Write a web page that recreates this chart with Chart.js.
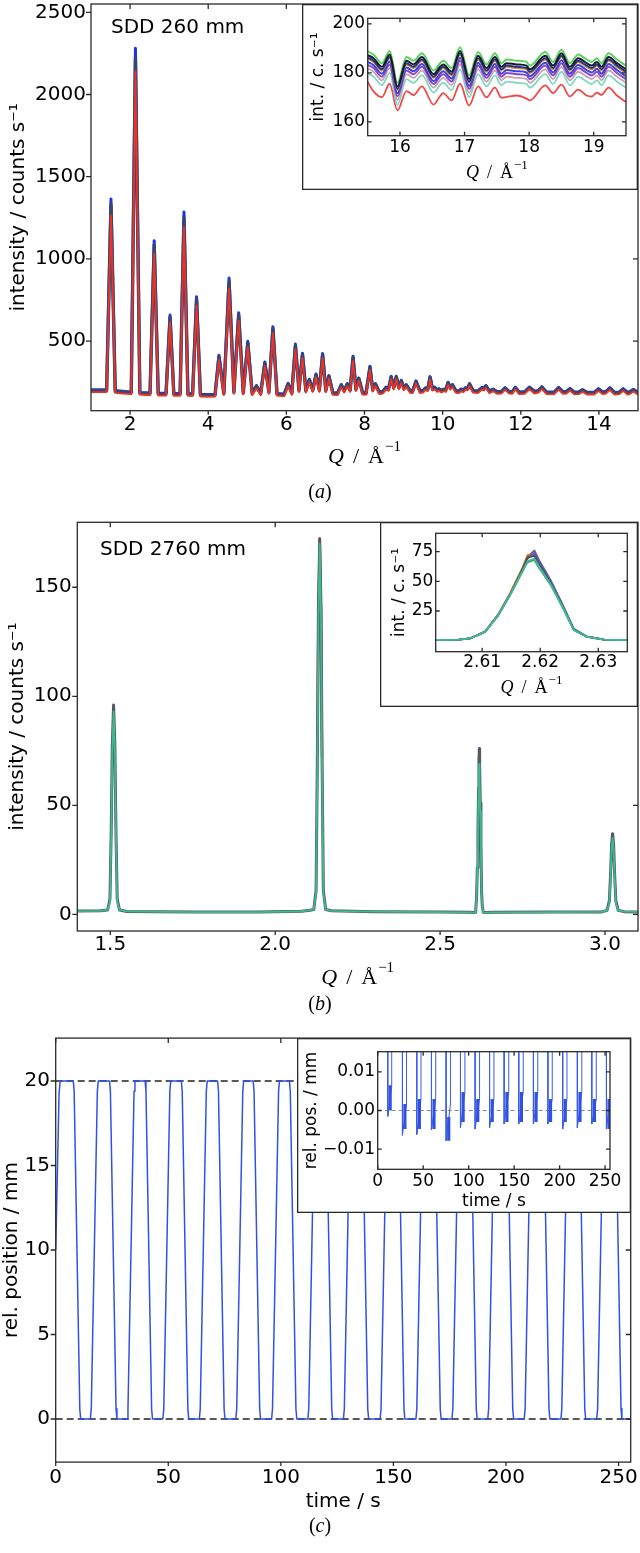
<!DOCTYPE html>
<html><head><meta charset="utf-8">
<script src="https://cdn.jsdelivr.net/npm/chart.js@4.4.1/dist/chart.umd.min.js"></script>
<style>
html,body{margin:0;padding:0;background:#fff;}
body{width:640px;height:1553px;position:relative;overflow:hidden;}
canvas{position:absolute;}
</style></head><body>
<canvas id="cA" width="640" height="510" style="left:0px;top:0px"></canvas>
<canvas id="cAi" width="336" height="186" style="left:302px;top:4px"></canvas>
<canvas id="cB" width="640" height="510" style="left:0px;top:510px"></canvas>
<canvas id="cBi" width="258" height="185" style="left:380px;top:522px"></canvas>
<canvas id="cC" width="640" height="533" style="left:0px;top:1020px"></canvas>
<canvas id="cCi" width="334" height="175" style="left:297px;top:1038px"></canvas>
<script>
// ---------- Panel (a): SDD 260 mm ----------
const qA = [
1.00,1.40,1.5115,1.62,1.80,2.03,2.1376,2.25,2.40,2.51,
2.618,2.72,2.92,3.023,3.12,3.28,3.380,3.48,3.60,3.702,
3.80,4.00,4.175,4.275,4.40,4.534,4.657,4.780,4.897,5.013,
5.125,5.236,5.343,5.450,5.553,5.656,5.76,5.94,6.046,6.14,
6.232,6.322,6.413,6.50,6.589,6.675,6.760,6.845,6.927,7.01,
7.090,7.19,7.31,7.405,7.48,7.558,7.633,7.707,7.78,7.854,
7.95,8.04,8.140,8.21,8.279,8.38,8.47,8.550,8.615,8.683,
8.748,8.813,8.878,8.942,9.005,9.069,9.17,9.23,9.318,9.42,
9.50,9.560,9.62,9.678,9.74,9.796,9.86,9.911,9.97,10.026,
10.08,10.139,10.195,10.251,10.34,10.41,10.472,10.53,10.580,10.64,
10.688,10.78,10.90,11.004,11.05,11.107,11.20,11.29,11.40,11.50,
11.60,11.70,11.78,11.86,11.96,12.10,12.22,12.35,12.45,12.54,
12.66,12.85,12.97,13.08,13.17,13.26,13.37,13.48,13.58,13.70,
13.88,13.99,14.10,14.18,14.28,14.40,14.52,14.62,14.73,14.80,
14.88,15.00];
const intA_dark = [
199,199,1330,194,190,186,2220,183,181,180,
1085,178,177,645,176,176,1250,176,175,752,
172,170,171,405,180,862,188,657,184,488,
180,225,180,365,188,575,177,173,238,182,
472,198,417,196,263,200,295,200,416,198,
285,182,180,232,196,238,200,400,205,271,
184,182,340,202,238,186,190,216,206,281,
215,281,215,258,210,232,194,192,254,193,
196,212,205,279,208,215,200,206,196,204,
200,246,214,232,194,192,204,198,212,210,
238,195,192,214,208,226,192,204,188,190,
212,190,188,215,186,188,216,190,195,218,
186,185,214,188,190,208,185,186,200,184,
184,206,186,190,212,184,186,206,184,188,
202,184];
const intA_blue = [
204,204,1364,199,195,191,2281,188,186,185,
1111,183,182,659,181,181,1285,181,180,770,
177,175,176,414,185,884,193,673,189,499,
185,229,185,373,193,588,182,178,243,187,
482,203,426,201,268,205,300,205,425,203,
290,187,185,236,201,242,205,408,210,276,
189,187,347,207,242,191,195,220,211,286,
220,286,220,262,215,236,199,197,258,198,
201,216,210,284,213,220,205,211,201,209,
205,250,219,236,199,197,209,203,217,215,
242,200,197,219,213,230,197,209,193,195,
217,195,193,220,191,193,221,195,200,223,
191,190,219,193,195,213,190,191,205,189,
189,211,191,195,217,189,191,211,189,193,
207,189];
const intA_red = [
190,190,1265,185,181,177,2140,174,172,171,
1030,169,168,615,167,167,1195,167,166,715,
163,161,162,385,171,820,179,625,175,465,
171,212,171,348,179,548,168,164,225,173,
450,189,397,187,250,191,280,191,396,189,
271,173,171,220,187,226,191,380,196,258,
175,173,324,193,226,177,181,205,197,268,
206,268,206,245,201,221,185,183,242,184,
187,203,196,266,199,206,191,197,187,195,
191,234,205,220,185,183,195,189,203,201,
226,186,183,205,199,215,183,195,179,181,
203,181,179,206,177,179,207,181,186,209,
177,176,205,179,181,199,176,177,191,175,
175,197,177,181,203,175,177,197,175,179,
193,175];
const qA_ticks = [2,4,6,8,10,12,14];
const qA_tickLabels = ['2','4','6','8','10','12','14'];
const intA_ticks = [500,1000,1500,2000,2500];
const intA_tickLabels = ['500','1000','1500','2000','2500'];

// inset (a)
const qAi = [
15.50,15.59,15.72,15.84,15.96,16.10,16.21,16.34,16.52,16.62,
16.67,16.80,16.93,17.07,17.21,17.34,17.47,17.57,17.65,17.81,
17.96,18.01,18.25,18.37,18.50,18.63,18.76,18.89,18.97,19.05,
19.12,19.23,19.36,19.50];
const intAi_green = [
188.8,187.5,184.0,189.0,176.0,186.5,185.0,188.0,181.0,184.0,
185.0,182.0,190.5,179.0,188.5,183.5,188.0,184.0,185.5,185.0,
184.5,183.0,188.5,184.5,189.5,184.0,187.5,185.5,184.5,186.0,
184.0,188.0,185.5,183.0];
const intAi_black = [
187.3,186.0,182.5,187.5,174.5,185.0,183.5,186.5,179.5,182.5,
183.5,180.5,189.0,177.5,187.0,182.0,186.5,182.5,184.0,183.5,
183.0,181.5,187.0,183.0,188.0,182.5,186.0,184.0,183.0,184.5,
182.5,186.5,184.0,181.5];
const intAi_navy = [
186.3,185.0,181.5,186.5,173.5,184.0,182.5,185.5,178.5,181.5,
182.5,179.5,188.0,176.5,186.0,181.0,185.5,181.5,183.0,182.5,
182.0,180.5,186.0,182.0,187.0,181.5,185.0,183.0,182.0,183.5,
181.5,185.5,183.0,180.5];
const intAi_orange = [
185.8,184.5,181.0,186.0,173.0,183.5,182.0,185.0,178.0,181.0,
182.0,179.0,187.5,176.0,185.5,180.5,185.0,181.0,182.5,182.0,
181.5,180.0,185.5,181.5,186.5,181.0,184.5,182.5,181.5,183.0,
181.0,185.0,182.5,180.0];
const intAi_blue = [
184.5,183.2,179.7,184.7,171.7,182.2,180.7,183.7,176.7,179.7,
180.7,177.7,186.2,174.7,184.2,179.2,183.7,179.7,181.2,180.7,
180.2,178.7,184.2,180.2,185.2,179.7,183.2,181.2,180.2,181.7,
179.7,183.7,181.2,178.7];
const intAi_purple = [
183.3,182.0,178.5,183.5,170.5,181.0,179.5,182.5,175.5,178.5,
179.5,176.5,185.0,173.5,183.0,178.0,182.5,178.5,180.0,179.5,
179.0,177.5,183.0,179.0,184.0,178.5,182.0,180.0,179.0,180.5,
178.5,182.5,180.0,177.5];
const intAi_gray = [
181.8,180.5,177.0,182.0,169.0,179.5,178.0,181.0,174.0,177.0,
178.0,175.0,183.5,172.0,181.5,176.5,181.0,177.0,178.5,178.0,
177.5,176.0,181.5,177.5,182.5,177.0,180.5,178.5,177.5,179.0,
177.0,181.0,178.5,176.0];
const intAi_teal = [
179.8,178.5,175.0,180.0,167.0,177.5,176.0,179.0,172.0,175.0,
176.0,173.0,181.5,170.0,179.5,174.5,179.0,175.0,176.5,176.0,
175.5,174.0,179.5,175.5,180.5,175.0,178.5,176.5,175.5,177.0,
175.0,179.0,176.5,174.0];
const intAi_red = [
176.3,172.5,170.1,175.6,164.7,172.6,171.0,174.5,167.1,170.5,
171.8,168.8,175.6,166.7,174.5,170.1,174.0,169.9,170.2,170.8,
169.5,168.8,174.9,171.8,175.2,170.4,173.2,170.8,170.4,172.0,
171.0,174.0,170.8,168.1];
const qAi_ticks = [16,17,18,19];
const qAi_tickLabels = ['16','17','18','19'];
const intAi_ticks = [160,180,200];
const intAi_tickLabels = ['160','180','200'];

// ---------- Panel (b): SDD 2760 mm ----------
const qB = [
1.400,1.470,1.492,1.499,1.503,1.506,1.510,1.514,1.517,1.521,
1.528,1.550,1.750,1.950,2.080,2.105,2.117,2.124,2.128,2.131,
2.135,2.139,2.142,2.146,2.153,2.170,2.300,2.500,2.590,2.602,
2.604,2.606,2.608,2.6105,2.6128,2.6148,2.6168,2.6178,2.6190,2.6198,
2.6218,2.6238,2.6258,2.628,2.631,2.635,2.660,2.850,2.990,3.006,
3.013,3.017,3.020,3.023,3.026,3.029,3.033,3.040,3.060,3.100];
const intB_green = [
1.5,1.6,2.0,6,38,74,93,74,38,6,
2.0,1.3,1.0,1.0,1.4,1.9,2.2,10,70,135,
170,135,70,10,2.2,1.6,1.2,1.0,0.9,0.8,
0.8,0.9,2.0,7.4,21.8,38.5,57,67,69,62.5,
47.5,29,9,3.4,0.9,0.8,0.9,1.0,1.1,1.8,
5,18,30,35,30,18,5,1.8,1.2,1.1];
const intB_gray = [
1.5,1.6,2.0,7,40,77,96,77,40,7,
2.0,1.3,1.0,1.0,1.4,1.9,2.2,11,74,140,
172,140,74,11,2.2,1.6,1.2,1.0,0.9,0.8,
0.8,0.9,2.0,7.3,21.5,38.5,58,70.5,76,68,
51,31,10,3.6,0.9,0.8,0.9,1.0,1.1,1.8,
6,19,32,37,32,19,6,1.8,1.2,1.1];
const qB_red = [2.128,2.131,2.135,2.139,2.142];
const intB_red = [72,138,172.5,138,72];
const qB_ticks = [1.5,2.0,2.5,3.0];
const qB_tickLabels = ['1.5','2.0','2.5','3.0'];
const intB_ticks = [0,50,100,150];
const intB_tickLabels = ['0','50','100','150'];

// inset (b)
const qBi = [2.602,2.604,2.606,2.608,2.6105,2.6128,2.6148,2.6168,2.6178,2.6190,2.6198,2.6218,2.6238,2.6258,2.628,2.631,2.633,2.635];
const intBi_purple = [0.6,0.6,0.8,2.0,7.3,21.5,38.5,58,70.5,76,68,51,31,10,3.6,0.8,0.6,0.6];
const intBi_blue   = [0.6,0.6,0.8,2.0,7.4,21.8,38.6,57.5,69,74,66.5,50,30.5,9.6,3.5,0.8,0.6,0.6];
const intBi_orange = [0.6,0.6,0.8,2.1,7.8,22.5,40,60,72,73,65,49,29.5,9.2,3.4,0.8,0.6,0.6];
const intBi_dark   = [0.6,0.6,0.8,2.0,7.5,22,39,58.5,70,71.5,64.5,48.5,29.5,9.2,3.4,0.8,0.6,0.6];
const intBi_green  = [0.6,0.6,0.8,2.0,7.4,21.8,38.5,57,66,68,61.5,47,28.5,8.8,3.3,0.8,0.6,0.6];
const intBi_teal   = [0.6,0.6,0.8,2.0,7.4,21.8,38.5,57,67,69,62.5,47.5,29,9,3.4,0.8,0.6,0.6];
const qBi_ticks = [2.61,2.62,2.63];
const qBi_tickLabels = ['2.61','2.62','2.63'];
const intBi_ticks = [25,50,75];
const intBi_tickLabels = ['25','50','75'];

// ---------- Panel (c): position ----------
const tC = [0,1.5,2.0,
7.8,8.2,10.7,11.1,15.4,15.8,18.5,18.9,
23.9,24.3,26.8,27.2,31.7,32.1,34.8,35.2,
39.7,40.1,42.6,43.0,47.6,48.0,50.7,51.1,
55.8,56.2,58.7,59.1,63.8,64.2,66.9,67.3,
71.9,72.3,74.8,75.2,80.0,80.4,83.1,83.5,
87.7,88.1,90.6,91.0,95.9,96.3,99.0,99.4,
103.8,104.2,106.7,107.1,112.0,112.4,115.1,115.5,
119.7,120.1,122.6,123.0,127.8,128.2,130.9,131.3,
135.7,136.1,138.6,139.0,144.1,144.5,147.2,147.6,
151.8,152.2,154.7,155.1,160.0,160.4,163.1,163.5,
167.9,168.3,170.8,171.2,176.0,176.4,179.1,179.5,
183.9,184.3,186.8,187.2,191.9,192.3,195.0,195.4,
200.1,200.5,203.0,203.4,208.1,208.5,211.2,211.6,
216.2,216.6,219.1,219.5,224.4,224.8,227.5,227.9,
232.1,232.5,235.0,235.4,240.3,240.7,243.4,243.8,
248.2,248.6,251.1,251.5,255.4];
const posC = [10,19.3,20,
20,19.4,0.6,0,0,0.6,19.4,20,
20,19.4,0.6,0,0,0.6,19.4,20,
20,19.4,0.6,0,0,0.6,19.4,20,
20,19.4,0.6,0,0,0.6,19.4,20,
20,19.4,0.6,0,0,0.6,19.4,20,
20,19.4,0.6,0,0,0.6,19.4,20,
20,19.4,0.6,0,0,0.6,19.4,20,
20,19.4,0.6,0,0,0.6,19.4,20,
20,19.4,0.6,0,0,0.6,19.4,20,
20,19.4,0.6,0,0,0.6,19.4,20,
20,19.4,0.6,0,0,0.6,19.4,20,
20,19.4,0.6,0,0,0.6,19.4,20,
20,19.4,0.6,0,0,0.6,19.4,20,
20,19.4,0.6,0,0,0.6,19.4,20,
20,19.4,0.6,0,0,0.6,19.4,20,
20,19.4,0.6,0,0];
const refLevelsC = [0,20];
const tRange = [0,255.4];
const tC_ticks = [0,50,100,150,200,250];
const tC_tickLabels = ['0','50','100','150','200','250'];
const posC_ticks = [0,5,10,15,20];
const posC_tickLabels = ['0','5','10','15','20'];

// inset (c): residual position
const resT = [11.1,11.1,15.4,15.4, 27.2,27.2,31.7,31.7, 43.0,43.0,47.6,47.6, 59.1,59.1,63.8,63.8,
75.2,75.2,80.0,80.0, 91.0,91.0,95.9,95.9, 107.1,107.1,112.0,112.0, 123.0,123.0,127.8,127.8,
139.0,139.0,144.1,144.1, 155.1,155.1,160.0,160.0, 171.2,171.2,176.0,176.0, 187.2,187.2,191.9,191.9,
203.4,203.4,208.1,208.1, 219.5,219.5,224.4,224.4, 235.4,235.4,240.3,240.3, 251.5,251.5,255.4];
const resV = [0.03,-0.0015,0.0065,0.03, 0.03,-0.0064,0.0017,0.03, 0.03,-0.0062,0.0030,0.03, 0.03,-0.0050,0.0030,0.03,
0.03,-0.0078,0.0017,0.03, 0.03,-0.0045,0.0048,0.03, 0.03,-0.0048,0.0030,0.03, 0.03,-0.0045,0.0030,0.03,
0.03,-0.0035,0.0048,0.03, 0.03,-0.0035,0.0048,0.03, 0.03,-0.0035,0.0048,0.03, 0.03,-0.0035,0.0030,0.03,
0.03,-0.0048,0.0030,0.03, 0.03,-0.0045,0.0048,0.03, 0.03,-0.0035,0.0030,0.03, 0.03,-0.0048,0.0030];
const bandT  = [13.7,29.9,45.8,61.9,78.1,93.9,110.0,125.9,142.1,158.0,174.1,190.0,206.2,222.4,238.3,254.3];
const bandLo = [0.0,-0.0048,-0.0048,-0.0048,-0.0078,-0.0030,-0.0030,-0.0030,-0.0030,-0.0030,-0.0030,-0.0030,-0.0030,-0.0030,-0.0030,-0.0048];
const bandHi = [0.0065,0.0017,0.0030,0.0030,-0.0017,0.0048,0.0030,0.0030,0.0048,0.0048,0.0048,0.0030,0.0030,0.0048,0.0030,0.0030];
const resC_ticks = [-0.01,0,0.01];
const resC_tickLabels = ['\u22120.01','0.00','0.01'];

// ---------- drawing helpers ----------
const sans = '"DejaVu Sans", sans-serif';
const serif = '"Liberation Serif", "DejaVu Serif", serif';
Chart.defaults.font.family = sans;
Chart.defaults.color = '#000';
const FRAME = '#2a2a2a';

function richText(ctx, parts, x, y, align) {
  let w = 0;
  parts.forEach(p => { ctx.font = p.font; p.w = ctx.measureText(p.t).width; w += p.w + (p.gap || 0); });
  let cx = align === 'center' ? x - w / 2 : x;
  ctx.textAlign = 'left';
  parts.forEach(p => { ctx.font = p.font; ctx.fillText(p.t, cx, y + (p.dy || 0)); cx += p.w + (p.gap || 0); });
}
const decoPlugin = {
  id: 'deco',
  beforeDraw(chart, args, opts) {
    const ctx = chart.ctx;
    ctx.save();
    ctx.fillStyle = '#fff';
    ctx.fillRect(0, 0, chart.width, chart.height);
    if (opts.box) {
      ctx.strokeStyle = FRAME; ctx.lineWidth = 1.3;
      ctx.strokeRect(0.65, 0.65, chart.width - 1.3, chart.height - 1.3);
    }
    ctx.restore();
  },
  afterDraw(chart, args, opts) {
    const ctx = chart.ctx, a = chart.chartArea;
    const xs = chart.scales.x, ys = chart.scales.y;
    const L = opts.tick || 5;
    ctx.save();
    ctx.strokeStyle = FRAME; ctx.lineWidth = 1.3;
    ctx.strokeRect(a.left, a.top, a.right - a.left, a.bottom - a.top);
    ctx.beginPath();
    xs.ticks.forEach(t => {
      const p = xs.getPixelForValue(t.value);
      if (opts.outer) { ctx.moveTo(p, a.bottom); ctx.lineTo(p, a.bottom + L - 1); }
      else { ctx.moveTo(p, a.bottom); ctx.lineTo(p, a.bottom - L); }
      ctx.moveTo(p, a.top); ctx.lineTo(p, a.top + L);
    });
    ys.ticks.forEach(t => {
      const p = ys.getPixelForValue(t.value);
      if (opts.outer) { ctx.moveTo(a.left, p); ctx.lineTo(a.left - L, p); }
      else { ctx.moveTo(a.left, p); ctx.lineTo(a.left + L, p); }
      ctx.moveTo(a.right, p); ctx.lineTo(a.right - L, p);
    });
    ctx.stroke();
    ctx.fillStyle = '#000';
    ctx.textBaseline = 'alphabetic';
    (opts.texts || []).forEach(tx => richText(ctx, tx.parts, tx.x, tx.y, tx.align));
    ctx.restore();
  }
};

function pts(xs, ys) { return xs.map((x, i) => ({x: x, y: ys[i]})); }
function ds(xs, ys, color, width, order, extra) {
  return Object.assign({data: pts(xs, ys), borderColor: color, backgroundColor: color, borderWidth: width,
    pointRadius: 0, tension: 0, fill: false, order: order, borderJoinStyle: 'round', spanGaps: false}, extra || {});
}
function setTicks(values) { return function (scale) { scale.ticks = values.map(v => ({value: v})); }; }
function xAxis(min, max, tv, tl, size, pad, height) {
  return {type: 'linear', min: min, max: max, offset: false, afterBuildTicks: setTicks(tv),
    afterFit: s => { s.height = height; s.paddingLeft = 0; s.paddingRight = 0; },
    grid: {display: false, drawTicks: false}, border: {display: false},
    ticks: {autoSkip: false, maxRotation: 0, minRotation: 0, padding: pad, font: {size: size, family: sans}, color: '#000',
      callback: (v, i) => tl[i]}};
}
function yAxis(min, max, tv, tl, size, pad, width, title, tsize, tpad) {
  return {type: 'linear', min: min, max: max, afterBuildTicks: setTicks(tv),
    afterFit: s => { s.width = width; s.paddingTop = 0; s.paddingBottom = 0; },
    grid: {display: false, drawTicks: false}, border: {display: false},
    ticks: {autoSkip: false, padding: pad, font: {size: size, family: sans}, color: '#000', callback: (v, i) => tl[i]},
    title: {display: true, text: title, color: '#000', font: {size: tsize, family: sans}, padding: {top: tpad, bottom: 0}}};
}
function makeChart(id, datasets, xa, ya, padding, deco) {
  return new Chart(document.getElementById(id), {
    type: 'line', data: {datasets: datasets},
    options: {responsive: false, animation: false, devicePixelRatio: 1, events: [], layout: {padding: padding},
      plugins: {legend: {display: false}, tooltip: {enabled: false}, deco: deco},
      scales: {x: xa, y: ya}},
    plugins: [decoPlugin]});
}
function qTitle(x, y, big) {
  const f = big ? 22 : 18, s = big ? 15 : 13, up = big ? 12 : 9, g = big ? 9 : 8;
  return {x: x, y: y, align: 'center', parts: [
    {t: 'Q', font: 'italic ' + f + 'px ' + serif, gap: g},
    {t: '/', font: f + 'px ' + serif, gap: g},
    {t: '\u00c5', font: f + 'px ' + serif, gap: 1},
    {t: '\u22121', font: s + 'px ' + serif, dy: -up}]};
}
function panelLabel(letter, x, y) {
  return {x: x, y: y, align: 'center', parts: [
    {t: '(', font: '20px ' + serif}, {t: letter, font: 'italic 20px ' + serif}, {t: ')', font: '20px ' + serif}]};
}

// ---------- Panel (a) ----------
makeChart('cA', [
  ds(qA, intA_red, '#ee3322', 1.8, 0),
  ds(qA, intA_dark, '#3a4670', 3.4, 1),
  ds(qA, intA_blue, '#2233dd', 3.0, 2)
], xAxis(1, 15, qA_ticks, qA_tickLabels, 20, 2, 99.3),
   yAxis(76.6, 2550.5, intA_ticks, intA_tickLabels, 20, 5, 91, 'intensity / counts s\u207b\u00b9', 20, 6.3),
   {left: 0, right: 2, top: 4, bottom: 0},
   {outer: true, tick: 5, texts: [
     {x: 111, y: 33.3, align: 'left', parts: [{t: 'SDD 260 mm', font: '20px ' + sans}]},
     qTitle(364.5, 463.3, true),
     panelLabel('a', 320, 498)]});

const mono = {cubicInterpolationMode: 'monotone'};
makeChart('cAi', [
  ds(qAi, intAi_black, '#141a30', 2.0, 0, mono),
  ds(qAi, intAi_navy, '#25358c', 2.0, 1, mono),
  ds(qAi, intAi_orange, '#e58a22', 2.0, 2, mono),
  ds(qAi, intAi_blue, '#3545e0', 2.0, 3, mono),
  ds(qAi, intAi_purple, '#8a45c8', 2.0, 4, mono),
  ds(qAi, intAi_green, '#5fd060', 2.0, 5, mono),
  ds(qAi, intAi_gray, '#c4a2b4', 1.8, 6, mono),
  ds(qAi, intAi_teal, '#80d8c0', 1.8, 7, mono),
  ds(qAi, intAi_red, '#f04848', 1.8, 8, mono)
], xAxis(15.5, 19.5, qAi_ticks, qAi_tickLabels, 17, 1.8, 54.3),
   yAxis(154.4, 202.3, intAi_ticks, intAi_tickLabels, 17, 2.7, 65.7, 'int. / c. s\u207b\u00b9', 17, 6.8),
   {left: 0, right: 12, top: 14.3, bottom: 0},
   {outer: false, tick: 4, box: true, texts: [qTitle(194.9, 174, false)]});

// ---------- Panel (b) ----------
makeChart('cB', [
  ds(qB, intB_green, '#3dbb8e', 1.8, 0),
  ds(qB, intB_gray, '#505a66', 3.0, 1),
  ds(qB_red, intB_red, '#cc2a2a', 2.4, 2)
], xAxis(1.4, 3.1, qB_ticks, qB_tickLabels, 20, 2, 89),
   yAxis(-7.66, 179.8, intB_ticks, intB_tickLabels, 20, 5.5, 77.3, 'intensity / counts s\u207b\u00b9', 20, 6),
   {left: 0, right: 2, top: 12.3, bottom: 0},
   {outer: true, tick: 5, texts: [
     {x: 100, y: 45, align: 'left', parts: [{t: 'SDD 2760 mm', font: '20px ' + sans}]},
     qTitle(357.7, 473.5, true),
     panelLabel('b', 320, 500)]});

makeChart('cBi', [
  ds(qBi, intBi_teal, '#40b8a0', 1.8, 0),
  ds(qBi, intBi_green, '#3aa65a', 1.8, 1),
  ds(qBi, intBi_dark, '#4a4f58', 1.8, 2),
  ds(qBi, intBi_blue, '#5060b0', 1.8, 3),
  ds(qBi, intBi_orange, '#d0701e', 1.8, 4),
  ds(qBi, intBi_purple, '#7a5a9a', 1.8, 5)
], xAxis(2.602, 2.635, qBi_ticks, qBi_tickLabels, 17, 0.3, 55.3),
   yAxis(-9.3, 90.5, intBi_ticks, intBi_tickLabels, 17, 2.4, 55.7, 'int. / c. s\u207b\u00b9', 17, 9.3),
   {left: 0, right: 10.7, top: 11.3, bottom: 0},
   {outer: false, tick: 4, box: true, texts: [qTitle(151.5, 171, false)]});

// ---------- Panel (c) ----------
const refDS = refLevelsC.map(l => ds(tRange, [l, l], '#222', 1.4, 5, {borderDash: [7, 4]}));
makeChart('cC', [ds(tC, posC, '#2f52e0', 1.5, 0)].concat(refDS),
   xAxis(tRange[0], tRange[1], tC_ticks, tC_tickLabels, 20, 3.2, 90.9),
   yAxis(-2.55, 22.54, posC_ticks, posC_tickLabels, 20, 5.7, 55.7, 'rel. position / mm', 20, 0),
   {left: 0, right: 9.3, top: 18.1, bottom: 0},
   {outer: true, tick: 5, texts: [
     {x: 343.2, y: 487, align: 'center', parts: [{t: 'time / s', font: '20px ' + sans}]},
     panelLabel('c', 320, 512)]});

const bandData = [];
bandT.forEach((t, i) => { bandData.push({x: t, y: bandLo[i]}, {x: t, y: bandHi[i]}, {x: t, y: null}); });
makeChart('cCi', [
  {data: bandData, borderColor: '#2f52e0', borderWidth: 3.2, pointRadius: 0, tension: 0, fill: false, order: 0, spanGaps: false, borderCapStyle: 'butt'},
  ds(resT, resV, '#3a5ce6', 1.0, 1),
  ds(tRange, [0, 0], '#8a8a8a', 1.0, 5, {borderDash: [4, 3]})
], xAxis(tRange[0], tRange[1], tC_ticks, tC_tickLabels, 17, 1.7, 43.7),
   yAxis(-0.0152, 0.0152, resC_ticks, resC_tickLabels, 17, 2.7, 80.7, 'rel. pos. / mm', 17, 4.5),
   {left: 0, right: 21, top: 13.7, bottom: 0},
   {outer: false, tick: 4, box: true, texts: [
     {x: 196.9, y: 168, align: 'center', parts: [{t: 'time / s', font: '17px ' + sans}]}]});
</script>
</body></html>
